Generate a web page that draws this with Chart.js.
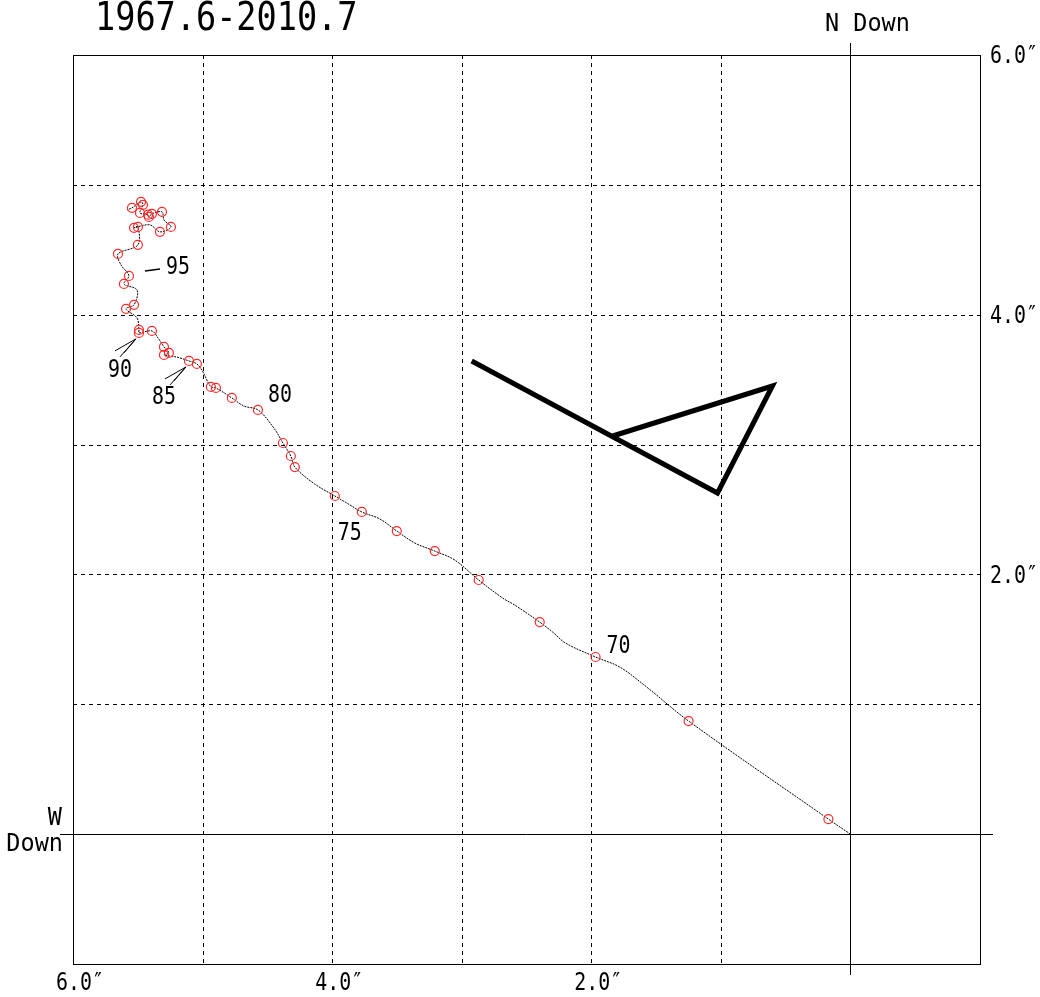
<!DOCTYPE html>
<html>
<head>
<meta charset="utf-8">
<script src="https://cdn.jsdelivr.net/npm/chart.js@4.4.1/dist/chart.umd.min.js"></script>
<style>
  html, body { margin: 0; padding: 0; background: #fff; }
  #chart { display: block; }
</style>
</head>
<body>
<canvas id="chart" width="1040" height="997"></canvas>
<script>
// displacement in seconds of arc, x = W down (reversed axis), y = N down
const title = "1967.6-2010.7";
const years = [1968, 1969, 1970, 1971, 1972, 1973, 1974, 1975, 1976, 1977, 1978, 1979,
  1980, 1981, 1982, 1983, 1984, 1985, 1986, 1987, 1988, 1989, 1990, 1991, 1992,
  1993, 1994, 1995, 1996, 1997, 1998, 1999, 2000, 2001, 2002, 2003, 2004, 2005,
  2006, 2007, 2008, 2009];
const yearX = [0.170, 1.249, 1.967, 2.398, 2.869, 3.208, 3.501, 3.771, 3.979, 4.288, 4.319, 4.380,
  4.573, 4.774, 4.897, 4.936, 5.044, 5.105, 5.298, 5.260, 5.298, 5.391, 5.491, 5.491, 5.591,
  5.529, 5.607, 5.568, 5.653, 5.499, 5.499, 5.529, 5.329, 5.244, 5.313, 5.391, 5.414, 5.421,
  5.483, 5.460, 5.475, 5.545];
const yearY = [0.116, 0.871, 1.364, 1.633, 1.957, 2.180, 2.334, 2.481, 2.604, 2.827, 2.912, 3.012,
  3.267, 3.359, 3.436, 3.444, 3.621, 3.644, 3.690, 3.706, 3.752, 3.875, 3.860, 3.883, 4.045,
  4.076, 4.237, 4.299, 4.468, 4.538, 4.676, 4.669, 4.638, 4.676, 4.792, 4.777, 4.753, 4.770,
  4.784, 4.846, 4.869, 4.823];

// full track (observations between the yearly marks)
const trackX = [0, 0.170, 1.249, 1.573, 1.781, 1.967, 2.198, 2.298, 2.398, 2.591, 2.684, 2.869,
  3.054, 3.208, 3.362, 3.501, 3.632, 3.771, 3.887, 3.979, 4.134, 4.288, 4.319, 4.380, 4.450,
  4.573, 4.681, 4.774, 4.897, 4.936, 4.997, 5.044, 5.105, 5.205, 5.298, 5.260, 5.298, 5.344,
  5.391, 5.491, 5.491, 5.506, 5.591, 5.529, 5.506, 5.607, 5.568, 5.630, 5.653, 5.499, 5.499,
  5.529, 5.406, 5.329, 5.244, 5.298, 5.313, 5.391, 5.414, 5.421, 5.483, 5.460, 5.475, 5.545, 5.583];
const trackY = [0, 0.116, 0.871, 1.133, 1.287, 1.364, 1.471, 1.556, 1.633, 1.764, 1.818, 1.957,
  2.111, 2.180, 2.242, 2.334, 2.427, 2.481, 2.550, 2.604, 2.696, 2.827, 2.912, 3.012, 3.128,
  3.267, 3.297, 3.359, 3.436, 3.444, 3.559, 3.621, 3.644, 3.675, 3.690, 3.706, 3.752, 3.821,
  3.875, 3.860, 3.883, 3.975, 4.045, 4.076, 4.191, 4.237, 4.299, 4.384, 4.468, 4.538, 4.676,
  4.669, 4.692, 4.638, 4.676, 4.730, 4.792, 4.777, 4.753, 4.770, 4.784, 4.846, 4.869, 4.823, 4.807];

// thick reference polyline
const refX = [2.923, 1.026, 0.602, 1.835];
const refY = [3.644, 2.627, 3.451, 3.066];

const gridTicks = [-1, 0, 1, 2, 3, 4, 5, 6];
const tickLabels = ["6.0\u2033", "4.0\u2033", "2.0\u2033"];
const tickValues = [6, 4, 2];

// year labels: text, year of the mark they refer to, pixel offset, style
const yearLabels = [
  { text: "70", year: 1970, dx: 23, dy: -10, kind: "plain" },
  { text: "75", year: 1975, dx: -12, dy: 22, kind: "plain" },
  { text: "80", year: 1980, dx: 22, dy: -14, kind: "plain" },
  { text: "85", year: 1985, dx: -25, dy: 37, kind: "arrow" },
  { text: "90", year: 1990, dx: -19, dy: 38, kind: "arrow" },
  { text: "95", year: 1995, dx: 49, dy: -8, kind: "dash" }
];

const FONT = "'DejaVu Sans Mono', monospace";

function txt(ctx, s, x, y, size, sx, align) {
  ctx.save();
  ctx.font = size + "px " + FONT;
  ctx.textBaseline = "middle";
  ctx.fillStyle = "#000";
  const w = ctx.measureText(s).width * sx;
  let left = x;
  if (align === "center") left = x - w / 2;
  if (align === "right") left = x - w;
  ctx.translate(left, y);
  ctx.scale(sx, 1);
  ctx.textAlign = "left";
  ctx.fillText(s, 0, 0);
  ctx.restore();
}

function line(ctx, x1, y1, x2, y2) {
  ctx.beginPath();
  ctx.moveTo(x1, y1);
  ctx.lineTo(x2, y2);
  ctx.stroke();
}

const framePlugin = {
  id: "frame",
  beforeDatasetsDraw(chart) {
    const { ctx, chartArea: a, scales: { x, y } } = chart;
    ctx.save();
    ctx.strokeStyle = "#000";
    ctx.lineWidth = 1;
    ctx.setLineDash([4, 4]);
    gridTicks.forEach(v => {
      if (v === 0 || v === -1 || v === 6) return;
      const px = Math.round(x.getPixelForValue(v)) + 0.5;
      line(ctx, px, a.top, px, a.bottom);
      const py = Math.round(y.getPixelForValue(v)) + 0.5;
      line(ctx, a.left, py, a.right, py);
    });
    ctx.setLineDash([]);
    ctx.strokeRect(Math.round(a.left) + 0.5, Math.round(a.top) + 0.5,
      Math.round(a.right - a.left), Math.round(a.bottom - a.top));
    // zero lines, extended past the frame
    const x0 = Math.round(x.getPixelForValue(0)) + 0.5;
    const y0 = Math.round(y.getPixelForValue(0)) + 0.5;
    line(ctx, x0, a.top - 12, x0, a.bottom + 11);
    line(ctx, a.left - 13, y0, a.right + 13, y0);
    ctx.restore();
  },
  afterDraw(chart) {
    const { ctx, chartArea: a, scales: { x, y } } = chart;
    txt(ctx, title, 95, 20, 39, 0.86, "left");
    txt(ctx, "N Down", x.getPixelForValue(0) + 17, 25, 24, 0.98, "center");
    txt(ctx, "W", a.left - 11, y.getPixelForValue(0) - 15, 24, 0.98, "right");
    txt(ctx, "Down", a.left - 10, y.getPixelForValue(0) + 11, 24, 0.98, "right");
    tickValues.forEach((v, i) => {
      txt(ctx, tickLabels[i], a.right + 10, y.getPixelForValue(v) + 2, 24, 0.83, "left");
      txt(ctx, tickLabels[i], x.getPixelForValue(v) + 7, a.bottom + 20, 24, 0.83, "center");
    });
    ctx.save();
    ctx.strokeStyle = "#000";
    ctx.lineWidth = 1;
    yearLabels.forEach(l => {
      const i = years.indexOf(l.year);
      const px = x.getPixelForValue(yearX[i]);
      const py = y.getPixelForValue(yearY[i]);
      txt(ctx, l.text, px + l.dx, py + l.dy, 24, 0.83, "center");
      if (l.kind === "arrow") {
        const tx = px - 3, ty = py + 6;
        line(ctx, tx, ty, tx - 21, ty + 12);
        line(ctx, tx, ty, tx - 16, ty + 18);
        line(ctx, tx, ty, tx - 12, ty + 14);
      } else if (l.kind === "dash") {
        ctx.lineWidth = 1.5;
        line(ctx, px + 16, py - 5, px + 31, py - 7);
        ctx.lineWidth = 1;
      }
    });
    ctx.restore();
  }
};

new Chart(document.getElementById("chart"), {
  type: "scatter",
  data: {
    datasets: [
      {
        label: "track",
        data: trackX.map((v, i) => ({ x: v, y: trackY[i] })),
        showLine: true,
        borderColor: "#000",
        borderWidth: 1,
        borderDash: [2, 1],
        tension: 0.35,
        pointRadius: 0,
        order: 2
      },
      {
        label: "yearly",
        data: yearX.map((v, i) => ({ x: v, y: yearY[i] })),
        showLine: false,
        pointStyle: "circle",
        pointRadius: 4.5,
        pointBorderWidth: 1.2,
        pointBorderColor: "#ff2a2a",
        pointBackgroundColor: "rgba(0,0,0,0)",
        order: 1
      },
      {
        label: "reference",
        data: refX.map((v, i) => ({ x: v, y: refY[i] })),
        showLine: true,
        borderColor: "#000",
        borderWidth: 5,
        tension: 0,
        pointRadius: 0,
        order: 0
      }
    ]
  },
  options: {
    responsive: false,
    devicePixelRatio: 1,
    animation: false,
    events: [],
    layout: { padding: { left: 73, right: 60, top: 55, bottom: 33 } },
    plugins: { legend: { display: false }, tooltip: { enabled: false } },
    scales: {
      x: { type: "linear", reverse: true, min: -1, max: 6, display: false },
      y: { type: "linear", min: -1, max: 6, display: false }
    }
  },
  plugins: [framePlugin]
});
</script>
</body>
</html>
